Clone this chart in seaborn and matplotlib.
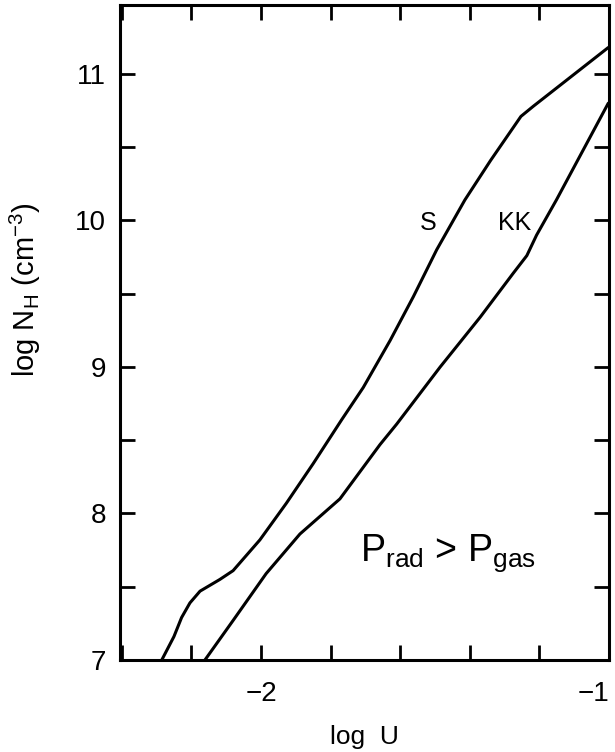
import numpy as np
import pandas as pd
import matplotlib
matplotlib.use("Agg")
import matplotlib.pyplot as plt
from matplotlib.ticker import MultipleLocator, FuncFormatter
import seaborn as sns

# curve "S" (log U, log N_H)
s_logu = [-2.285, -2.250, -2.228, -2.204, -2.175, -2.118, -2.080, -2.003,
          -1.927, -1.850, -1.768, -1.706, -1.629, -1.562, -1.495, -1.414,
          -1.340, -1.253, -1.217, -1.002]
s_lognh = [7.00, 7.16, 7.29, 7.39, 7.47, 7.55, 7.61, 7.82,
           8.07, 8.34, 8.64, 8.86, 9.18, 9.48, 9.80, 10.14,
           10.41, 10.71, 10.78, 11.18]

# curve "KK"
kk_logu = [-2.161, -2.080, -1.985, -1.888, -1.773, -1.658, -1.610, -1.485,
           -1.370, -1.275, -1.236, -1.208, -1.151, -1.002]
kk_lognh = [7.00, 7.27, 7.59, 7.86, 8.10, 8.47, 8.61, 9.00,
            9.34, 9.64, 9.76, 9.90, 10.14, 10.80]

x_limits = (-2.405, -1.0)
y_limits = (7.0, 11.47)

sns.set_style("ticks")
plt.rcParams['font.family'] = ['Liberation Sans', 'DejaVu Sans']
plt.rcParams['mathtext.fontset'] = 'custom'
plt.rcParams['mathtext.rm'] = 'Liberation Sans'
for key in ['text.color', 'axes.labelcolor', 'xtick.color', 'ytick.color', 'axes.edgecolor']:
    plt.rcParams[key] = 'black'

fig = plt.figure(figsize=(6.15, 7.52), dpi=100)
ax = fig.add_axes([0.1951, 0.1223, 0.7951, 0.8710])

s_df = pd.DataFrame({"logU": s_logu, "logNH": s_lognh})
kk_df = pd.DataFrame({"logU": kk_logu, "logNH": kk_lognh})
sns.lineplot(data=s_df, x="logU", y="logNH", color="black", lw=2.2,
             sort=False, estimator=None, ax=ax)
sns.lineplot(data=kk_df, x="logU", y="logNH", color="black", lw=2.2,
             sort=False, estimator=None, ax=ax)

ax.set_xlim(*x_limits)
ax.set_ylim(*y_limits)

# ticks every 0.2 / 0.5, labels only at integers
ax.xaxis.set_major_locator(MultipleLocator(0.2))
ax.yaxis.set_major_locator(MultipleLocator(0.5))

def int_only(v, pos):
    if abs(v - round(v)) < 1e-6:
        return "\u2212%d" % abs(round(v)) if v < 0 else "%d" % round(v)
    return ""

ax.xaxis.set_major_formatter(FuncFormatter(int_only))
ax.yaxis.set_major_formatter(FuncFormatter(int_only))
ax.tick_params(axis="both", direction="in", length=11, width=2,
               top=True, right=True, labelsize=20, colors="black")
ax.tick_params(axis="x", pad=15)
ax.tick_params(axis="y", pad=10)
for sp in ax.spines.values():
    sp.set_linewidth(2.2)
    sp.set_color("black")
    sp.set_visible(True)

fig.canvas.draw()
for lbl in ax.get_xticklabels():
    if lbl.get_text() == "\u22121":
        lbl.set_ha("right")

ax.set_xlabel("log  U", fontsize=19)
ax.xaxis.set_label_coords(0.5, -0.118)
ax.xaxis.label.set_va("center")
ax.set_ylabel(r"log N$_\mathregular{H}$ (cm$^\mathregular{-3}$)", fontsize=21)
ax.yaxis.set_label_coords(-0.194, 0.565)
ax.yaxis.label.set_va("center")

ax.text(-1.52, 9.98, "S", fontsize=18, ha="center", va="center")
ax.text(-1.271, 9.98, "KK", fontsize=18, ha="center", va="center")
ax.text(-1.715, 7.73, r"P$_\mathregular{rad}$ > P$_\mathregular{gas}$",
        fontsize=27, ha="left", va="center")

fig.savefig("out.png", dpi=100)
